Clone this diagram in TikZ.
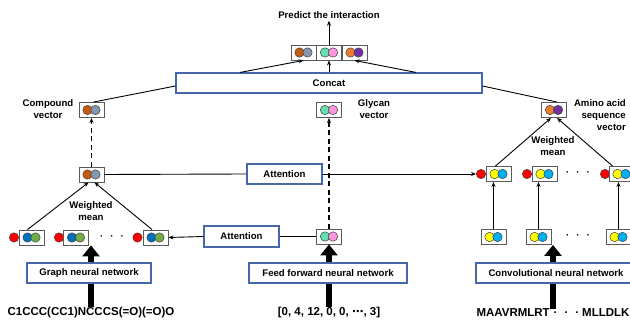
\documentclass[tikz,border=0pt]{standalone}
\usepackage{fontspec}
\setmainfont{Liberation Sans}
\newfontfamily\djv{DejaVu Sans}
\usetikzlibrary{arrows.meta,calc}
\definecolor{cOrgA}{RGB}{197,90,17}
\definecolor{cGray}{RGB}{132,151,176}
\definecolor{cMint}{RGB}{100,224,175}
\definecolor{cPink}{RGB}{255,150,225}
\definecolor{cOrgB}{RGB}{237,125,49}
\definecolor{cPurp}{RGB}{112,48,160}
\definecolor{cBlue}{RGB}{0,112,192}
\definecolor{cGreen}{RGB}{112,173,71}
\definecolor{cYel}{RGB}{255,255,0}
\definecolor{cSky}{RGB}{0,176,240}
\definecolor{cRed}{RGB}{255,0,0}
\definecolor{boxblue}{RGB}{68,104,170}
\definecolor{edgegray}{RGB}{90,90,90}
\newcommand\lblfont{\fontsize{9.6}{12}\selectfont\bfseries}
\newcommand\vecnode[4]{%
  \node[vecbox] (#1) at (#2) {};
  \draw[ball,fill=#3] ($(#1.center)+(-4,0)$) circle (4.7pt);
  \draw[ball,fill=#4] ($(#1.center)+(4,0)$) circle (4.7pt);}
\begin{document}
\begin{tikzpicture}[x=1pt,y=-1pt,
  vecbox/.style={draw=edgegray,line width=0.9pt,fill=white,minimum width=25pt,minimum height=15pt,inner sep=0pt},
  ball/.style={draw=black!75,line width=0.5pt},
  reddot/.style={circle,draw=black!75,line width=0.5pt,fill=cRed,minimum size=9.4pt,inner sep=0pt},
  procbox/.style={draw=boxblue,line width=1.1pt,fill=white,inner sep=0pt,font=\lblfont},
  lbl/.style={font=\lblfont,align=center,inner sep=0pt},
  plain/.style={line width=0.9pt},
  thin/.style={line width=0.9pt,-{Stealth[length=5pt,width=4pt]}},
  dline/.style={line width=1.2pt,dash pattern=on 5pt off 3.5pt,-{Stealth[length=5pt,width=4pt]}},
  big/.style={line width=6pt,-{Triangle[length=11pt,width=17pt]}},
  seqtxt/.style={font=\fontsize{11.5}{13}\selectfont\bfseries,inner sep=0pt},
  dotstxt/.style={font=\lblfont,inner sep=0pt}]
\clip (0,0) rectangle (630,320);
\fill[white] (0,0) rectangle (630,320);

% bottom texts
\node[seqtxt] (smiles) at (91,313) {C1CCC(CC1)NCCCS(=O)(=O)O};
\node[seqtxt] (vecs) at (329,313) {[0, 4, 12, 0, 0, {\djv ⋯}, 3]};
\node[seqtxt] (seq) at (553,313) {MAAVRMLRT\hspace{4pt}·\hspace{7pt}·\hspace{7pt}·\hspace{3pt}MLLDLK};

% lower rows
\node[reddot] (r1) at (14,237.5) {};
\vecnode{n1}{31.5,237.5}{cBlue}{cGreen}
\node[reddot] (r2) at (59,237.5) {};
\vecnode{n2}{76,237.5}{cBlue}{cGreen}
\node[dotstxt] (dA) at (112,237.5) {·\hspace{7pt}·\hspace{7pt}·};
\node[reddot] (r3) at (137.5,237.5) {};
\vecnode{n3}{155.5,237.5}{cBlue}{cGreen}

\vecnode{gl}{329,236.5}{cMint}{cPink}

\vecnode{l1}{493.5,237}{cYel}{cSky}
\vecnode{l2}{538.5,237}{cYel}{cSky}
\node[dotstxt] (dB) at (578,237) {·\hspace{7pt}·\hspace{7pt}·};
\vecnode{l3}{618.5,237}{cYel}{cSky}

% big arrows and process boxes
\draw[big] (smiles.north) -- (smiles.north |- n2.south);
\draw[big] (vecs.north) -- (gl.south);
\draw[big] (seq.north) -- (seq.north |- l2.south);
\node[procbox,minimum width=124pt,minimum height=20pt] (gnn) at (89,273) {Graph neural network};
\node[procbox,minimum width=158pt,minimum height=20pt] (ffn) at (328,273) {Feed forward neural network};
\node[procbox,minimum width=160pt,minimum height=20pt] (cnn) at (556,273) {Convolutional neural network};

% middle rows
\vecnode{cl}{91.5,174.5}{cOrgA}{cGray}
\node[reddot] (ra1) at (481,174) {};
\vecnode{a1}{498.5,174}{cYel}{cSky}
\node[reddot] (ra2) at (527,174) {};
\vecnode{a2}{544.5,174}{cYel}{cSky}
\node[dotstxt] (dC) at (578,174) {·\hspace{7pt}·\hspace{7pt}·};
\node[reddot] (ra3) at (605,174) {};
\vecnode{a3}{621.5,174}{cYel}{cSky}

\node[procbox,minimum width=75pt,minimum height=20pt] (att1) at (284.5,174) {Attention};
\node[procbox,minimum width=75pt,minimum height=21pt] (att2) at (241.5,236.5) {Attention};

% vectors
\vecnode{cv}{91.5,110}{cOrgA}{cGray}
\vecnode{gv}{329,110}{cMint}{cPink}
\vecnode{av}{554,110}{cOrgB}{cPurp}
\node[lbl] (cvl) at (48,109) {Compound\\vector};
\node[lbl] (gvl) at (374,109) {Glycan\\vector};
\node[lbl,align=right,anchor=east] (avl) at (626,115) {Amino acid\\sequence\\vector};
\node[lbl] (wm1) at (91,211) {Weighted\\mean};
\node[lbl] (wm2) at (553,146.5) {Weighted\\mean};

\node[procbox,minimum width=306pt,minimum height=20pt] (concat) at (329,83) {Concat};
\vecnode{t1}{303.5,52.5}{cOrgA}{cGray}
\vecnode{t2}{329,52.5}{cMint}{cPink}
\vecnode{t3}{354.5,52.5}{cOrgB}{cPurp}
\node[lbl,inner sep=2pt] (pred) at (329,15) {Predict the interaction};

% connectors
\draw[plain] (cl.east) -- (att1.west);
\draw[thin] (att1.east) -- (ra1.west);
\draw[plain] (gl.west) -- (att2.east);
\draw[thin] (att2.west) -- (n3.east);
\draw[thin] ($(n1.north)+(-4,0)$) -- ($(cl.south)+(-3,0)$);
\draw[thin] ($(n3.north)+(-3.5,0)$) -- ($(cl.south)+(3,0)$);
\draw[dline] (cl.north) -- (cv.south);
\draw[dline] (gl.north) -- (gv.south);
\draw[thin] (l1.north) -- (l1.north |- a1.south);
\draw[thin] (l2.north) -- (l2.north |- a2.south);
\draw[thin] (l3.north) -- (l3.north |- a3.south);
\draw[thin] ($(a1.north)+(-3,0)$) -- ($(av.south)+(-3,0)$);
\draw[thin] ($(a3.north west)+(4,0)$) -- ($(av.south)+(3,0)$);
\draw[plain] ($(cv.north)+(2,0)$) -- ($(concat.west)+(0,3)$);
\draw[plain] ($(concat.east)+(0,3)$) -- ($(av.north)+(3,0)$);
\draw[thin] ($(concat.north)+(-89,0)$) -- (t1.south);
\draw[thin] (concat.north) -- (t2.south);
\draw[thin] ($(concat.north)+(87,0)$) -- (t3.south);
\draw[thin] (t2.north) -- (pred.south);
\end{tikzpicture}
\end{document}
